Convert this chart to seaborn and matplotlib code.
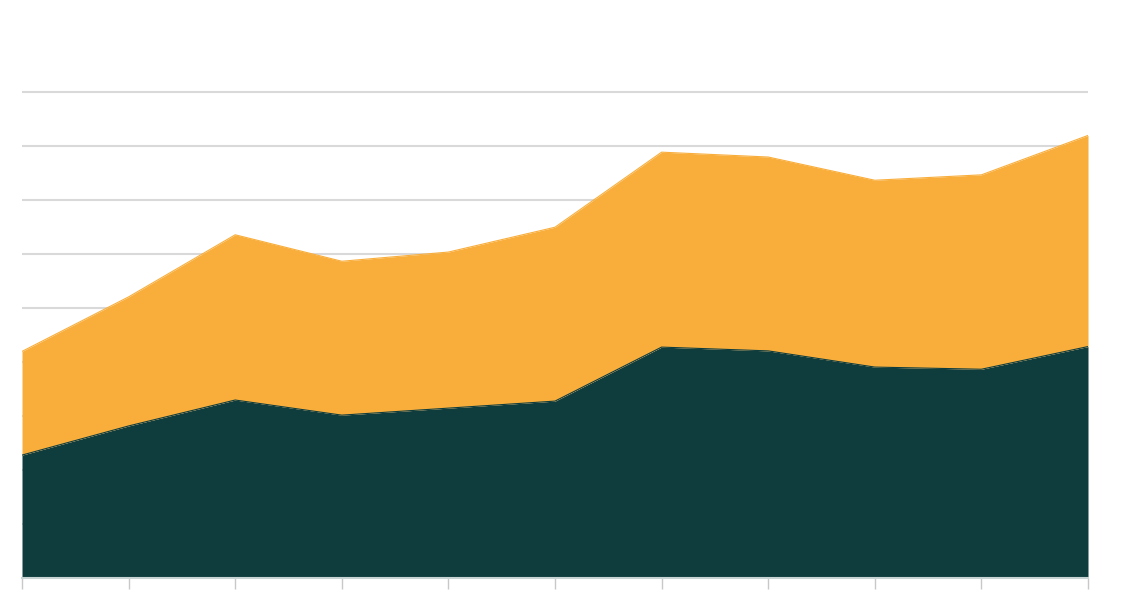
import pandas as pd
import matplotlib
matplotlib.use('Agg')
import matplotlib.pyplot as plt
import seaborn as sns

# Values (one gridline = 10 units)
periods = list(range(1, 12))
base_series = [22.7, 28.1, 32.9, 30.1, 31.4, 32.7, 42.7, 42.0, 39.0, 38.6, 42.8]
top_series = [19.2, 23.9, 30.6, 28.5, 28.9, 32.2, 36.1, 35.9, 34.6, 36.0, 39.1]
grid_values = [10, 20, 30, 40, 50, 60, 70, 80, 90]

dark = '#0f3d3e'
orange = '#f9ae3b'
grid_grey = '#d9d9d9'

df = pd.DataFrame({'period': periods, 'base': base_series, 'top': top_series})
df['total'] = df['base'] + df['top']

sns.set_theme(style='white')

fig = plt.figure(figsize=(11.46, 6.02), dpi=100)
ax = fig.add_axes([22 / 1146, 0.0404, (1088 - 22) / 1146, 0.8970])

# Stacked areas
ax.stackplot(df['period'], df['base'], df['top'], colors=[dark, orange], linewidth=0, zorder=2)
sns.lineplot(data=df, x='period', y='total', color=orange, linewidth=0.8, ax=ax, zorder=3)
sns.lineplot(data=df, x='period', y='base', color=dark, linewidth=0.8, ax=ax, zorder=3)

ax.set_xlim(periods[0], periods[-1])
ax.set_ylim(0, 100)

# Horizontal gridlines behind the areas
ax.set_yticks(grid_values)
ax.yaxis.grid(True, color=grid_grey, linewidth=1.5, zorder=0)
ax.set_axisbelow(True)
ax.tick_params(axis='y', length=0, labelleft=False)

ax.set_xticks(periods)
ax.tick_params(axis='x', length=8, width=1, color='#c8c8c8', direction='out', labelbottom=False, bottom=True)

for side in ['top', 'right', 'left']:
    ax.spines[side].set_visible(False)
ax.spines['bottom'].set_color('#c8d4d4')
ax.spines['bottom'].set_linewidth(1.5)
ax.spines['bottom'].set_zorder(4)

ax.set_xlabel('')
ax.set_ylabel('')

fig.savefig('out.png', dpi=100)
